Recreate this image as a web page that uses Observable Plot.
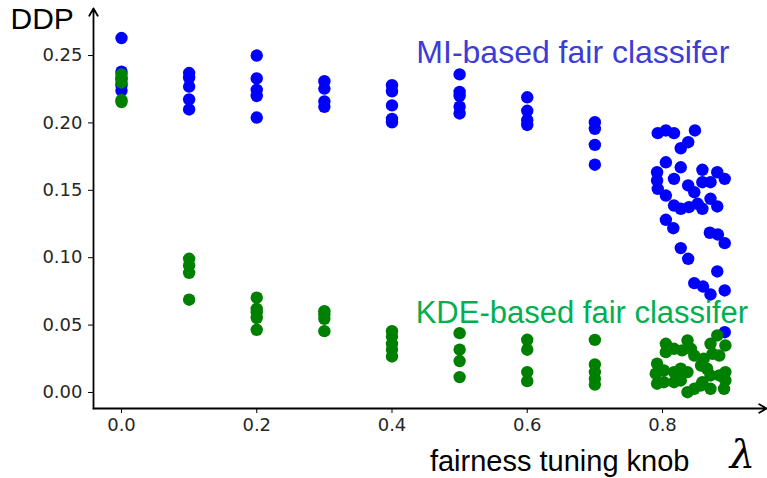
<!DOCTYPE html>
<html>
<head>
<meta charset="utf-8">
<script src="https://cdn.jsdelivr.net/npm/d3@7"></script>
<script src="https://cdn.jsdelivr.net/npm/@observablehq/plot@0.6"></script>
<style>
  html, body { margin: 0; padding: 0; background: #fff; }
</style>
</head>
<body>
<div id="chart"></div>
<script>
// MI-based fair classifier (blue)
const lambdaMI = [
  0, 0, 0, 0, 0,
  0.1, 0.1, 0.1, 0.1, 0.1,
  0.2, 0.2, 0.2, 0.2, 0.2,
  0.3, 0.3, 0.3, 0.3,
  0.4, 0.4, 0.4, 0.4, 0.4,
  0.5, 0.5, 0.5, 0.5, 0.5,
  0.6, 0.6, 0.6, 0.6,
  0.7, 0.7, 0.7, 0.7,
  0.793, 0.805, 0.817, 0.848, 0.838, 0.827, 0.805, 0.792, 0.792, 0.827,
  0.817, 0.859, 0.881, 0.892, 0.859, 0.871, 0.838, 0.793, 0.847, 0.805,
  0.871, 0.817, 0.827, 0.839, 0.852, 0.859, 0.881, 0.805, 0.816, 0.870,
  0.882, 0.892, 0.827, 0.838, 0.881, 0.847, 0.860, 0.871, 0.892, 0.892
];
const ddpMI = [
  0.263, 0.238, 0.233, 0.228, 0.224,
  0.237, 0.2335, 0.227, 0.2175, 0.210,
  0.250, 0.233, 0.2245, 0.220, 0.204,
  0.231, 0.2255, 0.216, 0.212,
  0.228, 0.2235, 0.213, 0.203, 0.2005,
  0.236, 0.223, 0.220, 0.212, 0.207,
  0.219, 0.209, 0.202, 0.1985,
  0.2005, 0.1956, 0.1837, 0.169,
  0.1924, 0.1944, 0.1924, 0.1944, 0.1857, 0.1812, 0.1708, 0.1634, 0.1573, 0.1671,
  0.1585, 0.1652, 0.1634, 0.1585, 0.1560, 0.1560, 0.1536, 0.1511, 0.1486, 0.1461,
  0.1437, 0.1387, 0.1363, 0.1375, 0.1400, 0.1363, 0.1380, 0.1281, 0.1219, 0.1185,
  0.1172, 0.1108, 0.1071, 0.0992, 0.0898, 0.0811, 0.0786, 0.0727, 0.0757, 0.0447
];

// KDE-based fair classifier (green)
const lambdaKDE = [
  0, 0, 0, 0, 0,
  0.1, 0.1, 0.1, 0.1,
  0.2, 0.2, 0.2, 0.2, 0.2,
  0.3, 0.3, 0.3, 0.3,
  0.4, 0.4, 0.4, 0.4, 0.4,
  0.5, 0.5, 0.5, 0.5,
  0.6, 0.6, 0.6, 0.6,
  0.7, 0.7, 0.7, 0.7, 0.7,
  0.881, 0.805, 0.837, 0.871, 0.893, 0.805, 0.817, 0.829, 0.842, 0.847,
  0.861, 0.874, 0.884, 0.792, 0.790, 0.802, 0.817, 0.827, 0.837, 0.857,
  0.866, 0.871, 0.884, 0.893, 0.893, 0.792, 0.802, 0.817, 0.827, 0.859,
  0.837, 0.847, 0.857, 0.871, 0.891
];
const ddpKDE = [
  0.236, 0.233, 0.230, 0.217, 0.2155,
  0.0992, 0.0942, 0.0888, 0.0688,
  0.0703, 0.0620, 0.0596, 0.0554, 0.0465,
  0.0603, 0.0579, 0.0547, 0.0455,
  0.0455, 0.0415, 0.0361, 0.0317, 0.0267,
  0.0440, 0.0317, 0.0233, 0.0114,
  0.0391, 0.0317, 0.0151, 0.0084,
  0.0390, 0.0208, 0.0151, 0.0102, 0.0059,
  0.0423, 0.0361, 0.0386, 0.0361, 0.0349, 0.0299, 0.0324, 0.0312, 0.0324, 0.0274,
  0.0250, 0.0287, 0.0274, 0.0213, 0.0139, 0.0163, 0.0151, 0.0176, 0.0151, 0.0200,
  0.0176, 0.0126, 0.0126, 0.0151, 0.0089, 0.0065, 0.0076, 0.0076, 0.0089, 0.0076,
  0.0002, 0.0027, 0.0052, 0.0027, 0.0027
];

const xTicks = [0, 0.2, 0.4, 0.6, 0.8];
const yTicks = [0, 0.05, 0.10, 0.15, 0.20, 0.25];
const labelMI = "MI-based fair classifer";
const labelKDE = "KDE-based fair classifer";
const yTitle = "DDP";
const xTitle = "fairness tuning knob";
const xSymbol = "λ";

const mi = lambdaMI.map((x, i) => ({x, y: ddpMI[i]}));
const kde = lambdaKDE.map((x, i) => ({x, y: ddpKDE[i]}));

const xDomain = [-0.0414, 0.9538];
const yDomain = [-0.0119, 0.2849];

const chart = Plot.plot({
  width: 767,
  height: 478,
  marginLeft: 93,
  marginRight: 1,
  marginTop: 8,
  marginBottom: 70,
  style: {fontFamily: "DejaVu Sans", fontSize: "18px", color: "#262626", background: "#fff"},
  x: {domain: xDomain},
  y: {domain: yDomain},
  marks: [
    Plot.axisX(xTicks, {tickFormat: d3.format(".1f"), tickSize: 5, tickPadding: 5, label: null, fontSize: 18, fill: "#262626", stroke: "#000"}),
    Plot.axisY(yTicks, {tickFormat: d3.format(".2f"), tickSize: 5, tickPadding: 6, label: null, fontSize: 18, fill: "#262626", stroke: "#000"}),
    Plot.arrow([0], {x1: () => xDomain[0], y1: () => yDomain[0], x2: () => xDomain[0], y2: () => yDomain[1], stroke: "#000", strokeWidth: 1.8, headLength: 7, bend: 0}),
    Plot.arrow([0], {x1: () => xDomain[0], y1: () => yDomain[0], x2: () => xDomain[1], y2: () => yDomain[0], stroke: "#000", strokeWidth: 1.8, headLength: 7, bend: 0}),
    Plot.dot(mi, {x: "x", y: "y", r: 6.2, fill: "#0000ff", stroke: null}),
    Plot.dot(kde, {x: "x", y: "y", r: 6.2, fill: "#008000", stroke: null}),
    Plot.text([labelMI], {x: () => 0.436, y: () => 0.2448, text: d => d, textAnchor: "start", lineAnchor: "bottom", fontSize: 32, fontFamily: "Liberation Sans", fill: "#3c3cd6"}),
    Plot.text([labelKDE], {x: () => 0.435, y: () => 0.0519, text: d => d, textAnchor: "start", lineAnchor: "bottom", fontSize: 31, fontFamily: "Liberation Sans", fill: "#00b050"}),
    Plot.text([yTitle], {frameAnchor: "top-left", dx: -83, dy: 20, text: d => d, textAnchor: "start", lineAnchor: "bottom", fontSize: 30, fontFamily: "Liberation Sans", fill: "#000"}),
    Plot.text([xTitle], {frameAnchor: "bottom-right", dx: -77, dy: 62, text: d => d, textAnchor: "end", lineAnchor: "bottom", fontSize: 29, fontFamily: "Liberation Sans", fill: "#000"}),
    Plot.text([xSymbol], {frameAnchor: "bottom-right", dx: -24, dy: 47, text: d => d, textAnchor: "middle", lineAnchor: "middle", fontSize: 40, fontFamily: "DejaVu Serif", fontStyle: "italic", fill: "#000"})
  ]
});
document.getElementById("chart").append(chart);
</script>
</body>
</html>
